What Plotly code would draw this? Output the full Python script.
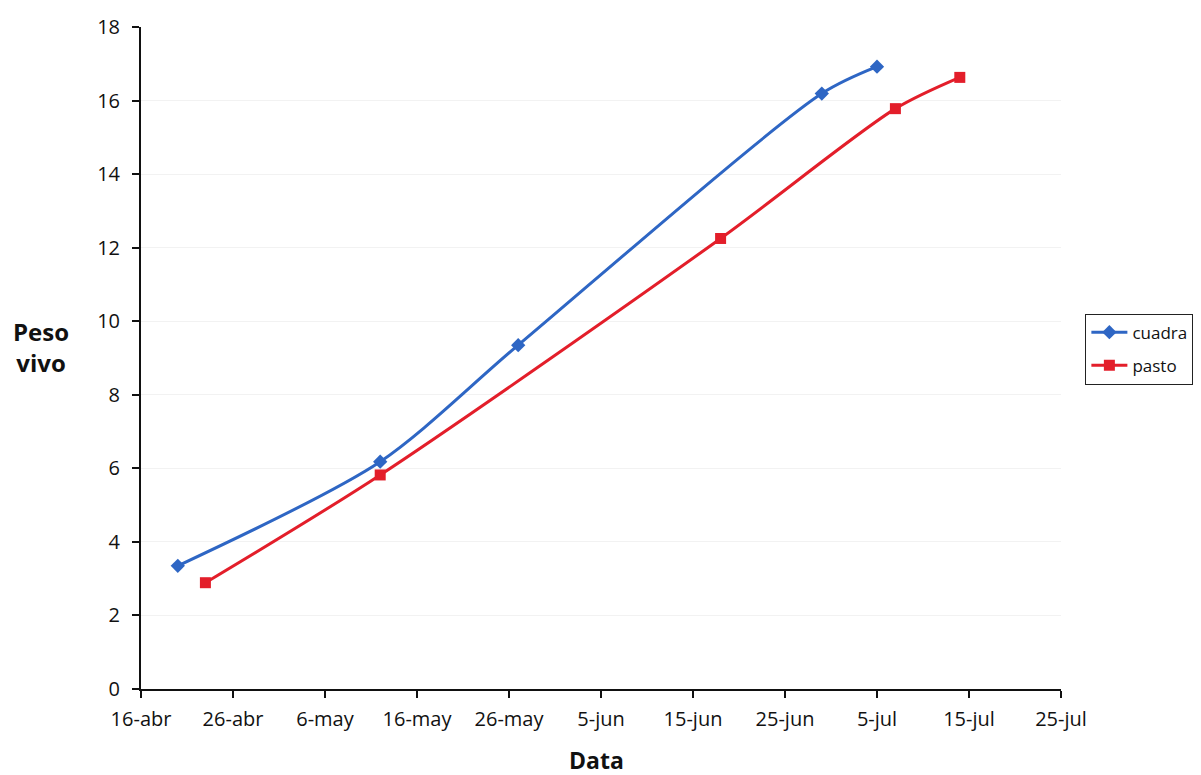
import plotly.graph_objects as go

cuadra_dates = ["2010-04-20", "2010-05-12", "2010-05-27", "2010-06-29", "2010-07-05"]
cuadra_vals = [3.35, 6.18, 9.35, 16.19, 16.92]
pasto_dates = ["2010-04-23", "2010-05-12", "2010-06-18", "2010-07-07", "2010-07-14"]
pasto_vals = [2.89, 5.82, 12.25, 15.78, 16.63]

tick_dates = ["2010-04-16", "2010-04-26", "2010-05-06", "2010-05-16", "2010-05-26", "2010-06-05",
              "2010-06-15", "2010-06-25", "2010-07-05", "2010-07-15", "2010-07-25"]
tick_labels = ["16-abr", "26-abr", "6-may", "16-may", "26-may", "5-jun",
               "15-jun", "25-jun", "5-jul", "15-jul", "25-jul"]

FONT = "'Open Sans', sans-serif"

fig = go.Figure()
fig.add_trace(go.Scatter(x=cuadra_dates, y=cuadra_vals, name="cuadra", mode="lines+markers",
                         legendgroup="a",
                         line=dict(color="#2E66C4", width=3, shape="spline", smoothing=0.8),
                         marker=dict(symbol="diamond", size=11, color="#2E66C4")))
fig.add_trace(go.Scatter(x=pasto_dates, y=pasto_vals, name="pasto", mode="lines+markers",
                         legendgroup="b",
                         line=dict(color="#E31E2A", width=3, shape="spline", smoothing=0.8),
                         marker=dict(symbol="square", size=11, color="#E31E2A")))

fig.update_layout(
    width=1193, height=767,
    margin=dict(l=133, r=140, t=19, b=86, autoexpand=False),
    paper_bgcolor="white", plot_bgcolor="white",
    font=dict(family=FONT, size=20, color="#111111"),
    showlegend=True,
    legend=dict(x=1.0265, y=0.567, xanchor="left", yanchor="top",
                bordercolor="#222222", borderwidth=1, bgcolor="white",
                font=dict(size=17), tracegroupgap=8, itemwidth=36),
    xaxis=dict(type="date", range=["2010-04-16", "2010-07-25"],
               tickvals=tick_dates, ticktext=tick_labels,
               showline=True, linecolor="#111111", linewidth=2,
               ticks="outside", ticklen=7, tickwidth=2, tickcolor="#111111",
               ticklabelstandoff=4, automargin=False,
               showgrid=False, zeroline=False),
    yaxis=dict(range=[0, 18], dtick=2, showline=True, linecolor="#111111", linewidth=2,
               ticks="outside", ticklen=7, tickwidth=2, tickcolor="#111111",
               ticklabelstandoff=8, automargin=False,
               showgrid=True, gridcolor="#F2F2F2", gridwidth=1, zeroline=False),
    annotations=[
        dict(text="<b>Peso<br>vivo</b>", xref="paper", yref="paper", x=-0.1087, y=0.516,
             xanchor="center", yanchor="middle", showarrow=False, font=dict(size=24, family=FONT)),
        dict(text="<b>Data</b>", xref="paper", yref="paper", x=0.4946, y=-0.107,
             xanchor="center", yanchor="middle", showarrow=False, font=dict(size=23, family=FONT)),
    ],
)

fig.write_html("out.html")
